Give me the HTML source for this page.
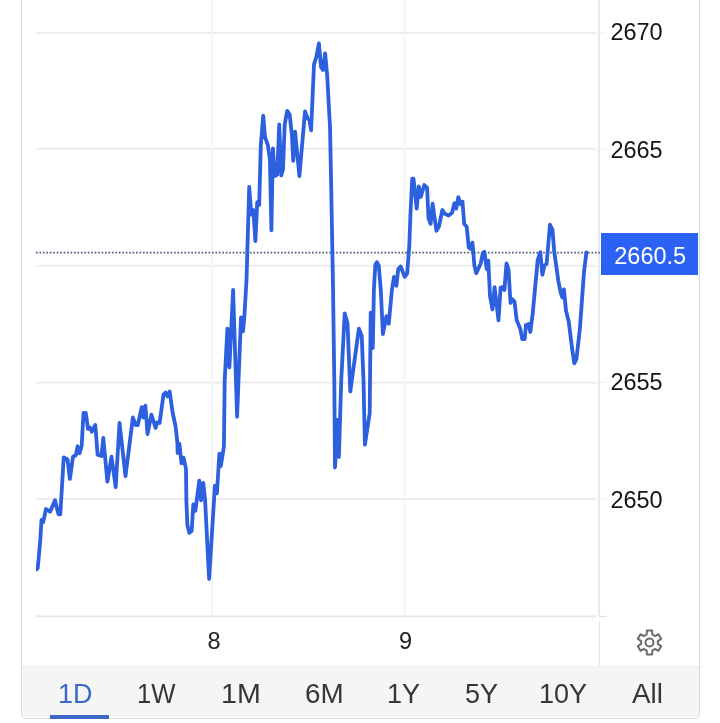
<!DOCTYPE html>
<html><head><meta charset="utf-8"><title>Chart</title>
<style>
html,body{margin:0;padding:0;background:#fff;}
body{width:720px;height:723px;position:relative;overflow:hidden;font-family:"Liberation Sans",sans-serif;}
#card{position:absolute;left:21px;top:-10px;width:677px;height:727px;border:1px solid #d9d9d9;border-radius:0 0 5px 5px;background:#fff;}
#tabs{position:absolute;left:22px;top:666px;width:677px;height:51px;background:#f5f5f5;border-top:1px solid #ebebeb;box-sizing:border-box;border-radius:0 0 4px 4px;}
svg{position:absolute;left:0;top:0;}
.yl{position:absolute;left:610.4px;font-size:23.5px;line-height:26px;color:#151515;letter-spacing:0px;}
.tl{position:absolute;font-size:23.5px;line-height:26px;color:#222;width:40px;text-align:center;}
.tab{position:absolute;top:679px;font-size:27px;line-height:30px;color:#363636;white-space:nowrap;transform-origin:0 0;}
#badge{position:absolute;left:601px;top:233px;width:97px;height:42px;background:#2b62f3;color:#fff;font-size:23.5px;line-height:46px;text-align:center;text-indent:1.4px;}
#ul{position:absolute;left:50px;top:715px;width:59px;height:3.5px;background:#3b68c8;}
</style></head><body>
<div id="card"></div>
<div id="tabs"></div>
<svg width="720" height="723" viewBox="0 0 720 723">
<g fill="#ececec">
<rect x="36" y="32.1" width="560" height="2"/>
<rect x="36" y="147.7" width="560" height="2"/>
<rect x="36" y="264.7" width="560" height="2"/>
<rect x="36" y="381.5" width="560" height="2"/>
<rect x="36" y="497.9" width="560" height="2"/>
</g>
<g fill="#f2f4f5">
<rect x="211" y="0" width="2" height="615"/>
<rect x="403.5" y="0" width="2" height="615"/>
</g>
<rect x="36" y="615.4" width="560" height="2" fill="#e7e7e7"/>
<rect x="598.3" y="0" width="1.3" height="616" fill="#e0e0e0"/>
<rect x="599" y="620.5" width="1" height="46" fill="#e6e6e6"/>
<g fill="#ececec">
<rect x="599" y="32.5" width="7" height="1"/>
<rect x="599" y="148.5" width="7" height="1"/>
<rect x="599" y="265.5" width="7" height="1"/>
<rect x="599" y="382" width="7" height="1"/>
<rect x="599" y="498.5" width="7" height="1"/>
<rect x="599" y="615.8" width="7.7" height="1.3" fill="#e2e2e2"/>
</g>
<line x1="36" y1="252.6" x2="601" y2="252.6" stroke="#525f7a" stroke-width="1.8" stroke-dasharray="1.7 1.75"/>
<clipPath id="cp"><rect x="36" y="0" width="562" height="615"/></clipPath>
<polyline clip-path="url(#cp)" fill="none" stroke="#2d60de" stroke-width="3.8" stroke-linejoin="round" stroke-linecap="round" points="33.5,571 37.7,568.4 40.3,540 41.5,520 43.2,522 46,509 50.1,511.7 55,500.3 58.5,514.4 60.3,514.4 63.75,457.4 67.5,459.4 69.9,478.9 73,456.7 75.8,455.3 77.6,446.3 79.6,453.2 81.7,445.6 83.5,412.9 85.8,412.9 88,428.9 90,427.5 91.8,431.7 95.3,425 97.6,454.6 101.5,456 103.3,437.9 107.4,481.7 111.5,456.7 115.7,487.2 119.5,423 125.5,476 132.9,417.5 135.7,425.1 137.8,425.1 141.7,407.1 143.3,417.5 145.4,405.7 147.5,434.2 151.4,414.7 155.6,427.9 157.2,422.4 159.6,423 163.5,394.6 165.6,392.5 167.6,396.4 169.7,391.4 172.5,411.9 175.6,426.5 177.4,443.2 177.6,452.9 179.4,443.9 181.5,463.3 183.6,457.8 186,468.9 186.4,501.7 187.4,525.3 189.4,532.9 191.7,530.8 193.3,504.4 195.4,510.7 199.3,480.6 201,500.3 203.3,482.9 205.1,500.3 209.1,579 214.9,485.7 216.9,493.3 219.4,453.6 220.8,466.1 223.9,446.7 224.7,380 227.4,328.6 229.4,367.5 233.1,290 237.1,416.8 241,317.5 243,331.4 244.4,316.1 246.5,280 247.8,235.6 249.2,187 251.3,214.7 253.3,209.9 255.4,241.1 257.2,202.2 259.2,205 260.8,145.6 263.2,115.7 265,137.2 267.8,144.9 269.9,159.4 271.4,230.3 272.9,148.3 274.7,176.1 277.2,174.7 279.2,124.4 281.3,175.4 283,169.2 284.7,124.7 287.2,110.8 289.6,114.3 292,135.8 293.2,160.8 295.1,131.7 299.4,176.1 305,111.5 307.6,118.5 309.4,119.9 311.1,130.3 314,64.4 316.4,56.8 318.9,43.3 321,67.2 323,70 325.1,53.3 327.2,75.6 329.6,120 330,126 331.25,190 332.9,280 334.3,380 335,467.5 337.5,420 338.9,457 341.25,380 344.7,313.3 347.5,323 350.3,391.5 358.9,328.6 361.7,335.6 363.5,380 364.9,444.6 369.7,413.3 370.7,312.6 372.8,348 373.9,290 375.3,265 376.9,262.2 378.75,265.7 380.8,290 382.9,334.2 386.4,316.1 388.75,323.75 391.9,290 394,276.8 396.4,285.8 398.2,269.2 400.6,266.4 404.7,276.8 407.2,273.3 409.3,245.6 410.4,215.6 412.2,178.75 413.5,178.75 416.7,208.6 418.75,186.4 420.8,196.8 424.3,185 427.1,187.8 428.5,218.3 430.6,223.9 432.6,203.75 436.4,230.8 438.9,226.7 442.4,210 444.4,213.5 448.6,215.6 452.1,212.8 454.4,203.1 456.25,208.6 458.3,197.2 460.7,204.4 462.5,201.7 464.2,223.9 466.7,226.7 468.75,247.5 470.8,248.9 472.5,242.6 474.4,265.6 476.25,273.2 480.7,263.5 482.8,253.1 484.4,251.7 486.7,269 488.3,260.7 490,296.1 492.5,309.3 494.6,287.1 498.5,320.4 500.6,287.5 502.2,287.1 504.4,290 506.5,263.3 508.5,269.5 510.5,303 512.3,299.2 514.5,301.6 516.7,320.3 520.2,328.4 522.2,339 524.7,339 526,325 528.7,324 530.3,332 532.7,313.5 537.7,260 540.3,252.2 542.4,274.8 544.5,265.4 546.6,264 550,224.7 552.5,229.9 554.2,251.4 558.3,280.6 560.6,292.5 562.3,297.5 563.9,289.3 566,310.6 568.75,321.7 572.2,349.4 574.3,363.3 576.4,359.2 579.9,328.6 584,272 586.4,252.5"/>
<path d="M652.37 634.61 L652.14 630.59 L646.86 630.59 L646.63 634.61 A8.40 8.40 0 0 0 644.10 636.07 L640.51 634.26 L637.86 638.83 L641.23 641.04 A8.40 8.40 0 0 0 641.23 643.96 L637.86 646.17 L640.51 650.74 L644.10 648.93 A8.40 8.40 0 0 0 646.63 650.39 L646.86 654.41 L652.14 654.41 L652.37 650.39 A8.40 8.40 0 0 0 654.90 648.93 L658.49 650.74 L661.14 646.17 L657.77 643.96 A8.40 8.40 0 0 0 657.77 641.04 L661.14 638.83 L658.49 634.26 L654.90 636.07 A8.40 8.40 0 0 0 652.37 634.61 Z" fill="none" stroke="#6b6b6b" stroke-width="2" stroke-linejoin="round"/>
<circle cx="649.5" cy="642.5" r="4" fill="none" stroke="#6b6b6b" stroke-width="2"/>
</svg>
<div class="yl" style="top:19px">2670</div>
<div class="yl" style="top:137px">2665</div>
<div class="yl" style="top:369px">2655</div>
<div class="yl" style="top:487px">2650</div>
<div id="badge">2660.5</div>
<div class="tl" style="left:194px;top:628px">8</div>
<div class="tl" style="left:385.5px;top:628px">9</div>
<div class="tab" style="left:58px;color:#3b68c8">1D</div>
<div class="tab" style="left:136.5px;transform:scaleX(0.95)">1W</div>
<div class="tab" style="left:220.6px;transform:scaleX(1.06)">1M</div>
<div class="tab" style="left:304.6px;transform:scaleX(1.03)">6M</div>
<div class="tab" style="left:387px">1Y</div>
<div class="tab" style="left:465px">5Y</div>
<div class="tab" style="left:539px">10Y</div>
<div class="tab" style="left:632.2px;transform:scaleX(1.03)">All</div>
<div id="ul"></div>
</body></html>
